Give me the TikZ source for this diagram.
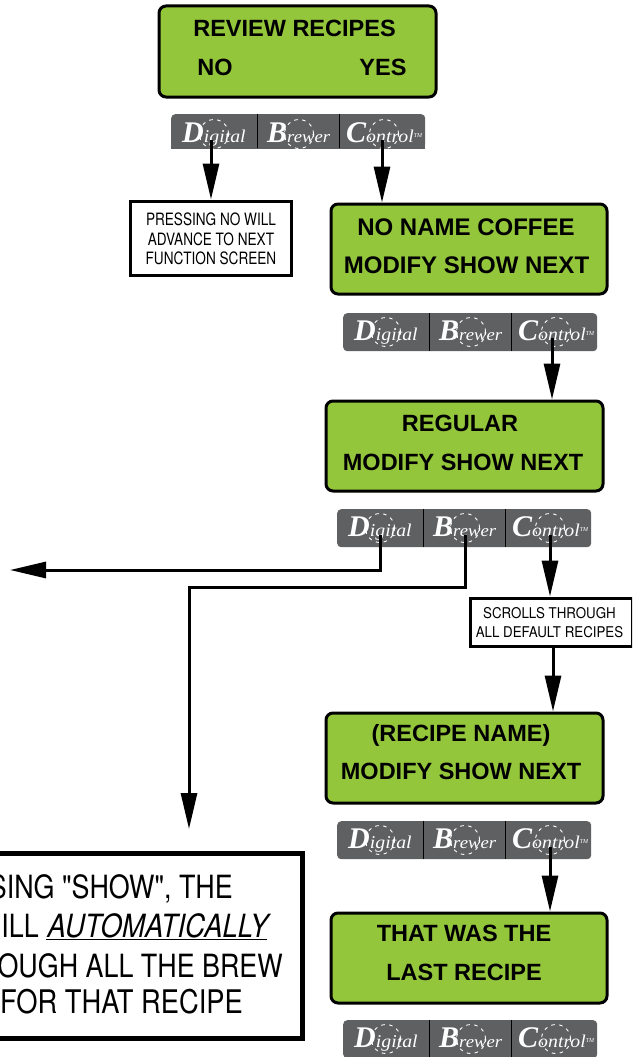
\documentclass[tikz,border=0pt]{standalone}
\usepackage{fontspec}
\usetikzlibrary{arrows.meta,shapes.geometric}
\setmainfont{Liberation Sans}
\newfontfamily\condf[FakeStretch=0.8]{TeX Gyre Heros}
\newfontfamily\condw[FakeStretch=0.9]{TeX Gyre Heros}
\newfontfamily\condb[FakeStretch=0.84]{TeX Gyre Heros}
\newfontfamily\condi[FakeStretch=0.86,FakeSlant=0.2]{TeX Gyre Heros}
\newfontfamily\logof{Liberation Serif}
\newfontfamily\logos[FakeStretch=1.1]{Liberation Serif}
\definecolor{lcd}{HTML}{94C63B}
\definecolor{bar}{HTML}{5F6062}
\tikzset{
  screen/.style={draw=black,fill=lcd,line width=3pt,rounded corners=7pt,inner sep=0pt},
  note/.style={draw=black,fill=white,line width=3pt,inner sep=0pt},
  lab/.style={anchor=base,inner sep=0pt,font=\fontsize{23.5}{26}\selectfont\bfseries,text=black},
  labw/.style={lab,font=\fontsize{24}{26}\selectfont\bfseries},
  notetxt/.style={anchor=base,inner sep=0pt,font=\condf\fontsize{17}{18}\selectfont},
  smalltxt/.style={anchor=base,inner sep=0pt,font=\condw\fontsize{14.8}{16}\selectfont},
  bigtxt/.style={anchor=base east,inner sep=0pt,font=\condb\fontsize{32}{36}\selectfont},
  arr/.style={draw=black,line width=3pt,-{Triangle[length=36pt,width=16pt]}},
  btn/.style={circle,draw=white,line width=0.9pt,dash pattern=on 3.5pt off 4.5pt,minimum size=29pt,inner sep=0pt},
  logot/.style={anchor=base west,inner sep=0pt,text=white},
}
\newcommand{\logobar}[5]{%
  \begin{scope}[shift={(#2,#3)}]
    \node[fill=bar,rounded corners=4pt,minimum width=254pt,minimum height=#5pt,inner sep=0pt,anchor=north west] (#1bar) at (0,#4) {};
    \draw[black,line width=0.9pt] (86,#4) coordinate (#1t1) -- ++(0,#5) coordinate (#1t2);
    \draw[black,line width=0.9pt] (168,#4) coordinate (#1t3) -- ++(0,#5) coordinate (#1t4);
    \node[btn] (#1d) at (43,19) {};
    \node[btn] (#1b) at (128,19) {};
    \node[btn] (#1c) at (213,19) {};
    \node[logot] (#1w1) at (11,27) {\logof\bfseries\itshape\fontsize{30}{30}\selectfont D\logos\fontsize{18}{18}\selectfont\mdseries igital};
    \node[logot] (#1w2) at (96,27) {\logof\bfseries\itshape\fontsize{30}{30}\selectfont B\logos\fontsize{17}{17}\selectfont\mdseries rewer};
    \node[logot] (#1w3) at (175,27) {\logof\bfseries\itshape\fontsize{30}{30}\selectfont C\logos\fontsize{18}{18}\selectfont\mdseries ontrol\raisebox{5pt}{\logof\fontsize{6}{6}\selectfont TM}};
  \end{scope}}
\begin{document}
\begin{tikzpicture}[x=1pt,y=-1pt]
\useasboundingbox (0,0) rectangle (632,1057);
\clip (0,0) rectangle (632,1057);
\fill[white] (0,0) rectangle (632,1057);

% screens
\node[screen,minimum width=277pt,minimum height=91pt] (s1) at (297.5,51.5) {};
\node[screen,minimum width=276pt,minimum height=90pt] (s2) at (469,249) {};
\node[screen,minimum width=277pt,minimum height=90pt] (s3) at (464.5,446) {};
\node[screen,minimum width=277pt,minimum height=90pt] (s4) at (464.5,758) {};
\node[screen,minimum width=276pt,minimum height=90pt] (s5) at (469,958) {};

\node[lab] (t1a) at (294.5,37) {REVIEW RECIPES};
\node[lab] (t1b) at (215,75) {NO};
\node[lab] (t1c) at (383,75) {YES};
\node[labw] (t2a) at (466,235) {NO NAME COFFEE};
\node[labw] (t2b) at (466.5,273) {MODIFY SHOW NEXT};
\node[lab] (t3a) at (460,431) {REGULAR};
\node[lab] (t3b) at (463,470) {MODIFY SHOW NEXT};
\node[lab] (t4a) at (461,741) {(RECIPE NAME)};
\node[lab] (t4b) at (461,779) {MODIFY SHOW NEXT};
\node[lab] (t5a) at (464,941) {THAT WAS THE};
\node[lab] (t5b) at (464,980) {LAST RECIPE};

% logo bars
\fill[bar] (171,140) rectangle (425,149);
\logobar{la}{171}{115}{-1}{34}
\logobar{lb}{343}{313}{0}{38}
\logobar{lc}{337}{509}{0}{38}
\logobar{ld}{337}{821}{0}{38}
\logobar{le}{343}{1020}{0}{38}

% notes
\node[note,minimum width=161pt,minimum height=74pt] (n1) at (210.5,238) {};
\node[notetxt] (n1a) at (211,225) {PRESSING NO WILL};
\node[notetxt] (n1b) at (211,245) {ADVANCE TO NEXT};
\node[notetxt] (n1c) at (211,264) {FUNCTION SCREEN};

\node[note,minimum width=162pt,minimum height=48pt] (n2) at (551,622) {};
\node[smalltxt] (n2a) at (549.5,618) {SCROLLS THROUGH};
\node[smalltxt] (n2b) at (549.5,637) {ALL DEFAULT RECIPES};

\node[note,line width=5pt,minimum width=340pt,minimum height=185pt] (n3) at (132,945.5) {};
\node[bigtxt] (n3a) at (233,898) {SING "SHOW", THE};
\node[bigtxt] (n3b) at (267,937) {ILL {\condi\underline{AUTOMATICALLY}}};
\node[bigtxt] (n3c) at (283,977) {OUGH ALL THE BREW};
\node[bigtxt,font=\condb\fontsize{32.5}{36}\selectfont] (n3d) at (243,1013) {S FOR THAT RECIPE};

% connector starts and free ends
\coordinate (a1) at ([xshift=-3pt,yshift=-6pt]lad.center);
\coordinate (a2) at ([xshift=-2pt,yshift=-6pt]lac.center);
\coordinate (a3) at ([xshift=-4pt,yshift=-6pt]lbc.center);
\coordinate (a4) at ([yshift=-7pt]lcd.center);
\coordinate (a5) at ([yshift=-7pt]lcb.center);
\coordinate (a6) at ([yshift=-7pt]lcc.center);
\coordinate (a7) at ([yshift=-7pt]ldc.center);
\coordinate (e4) at (10,570);
\coordinate (k5) at (189,587);
\coordinate (e5) at (189,829);
\coordinate (a8) at (553,646);

\draw[arr] (a1) -- (a1 |- n1.north);
\draw[arr] (a2) -- (a2 |- s2.north);
\draw[arr] (a3) -- (a3 |- s3.north);
\draw[arr] (a4) |- (e4);
\draw[arr] (a5) |- (k5) -- (e5);
\draw[arr] (a6) -- (a6 |- n2.north);
\draw[arr] (a8 |- n2.south) -- (a8 |- s4.north);
\draw[arr] (a7) -- (a7 |- s5.north);
\end{tikzpicture}
\end{document}
